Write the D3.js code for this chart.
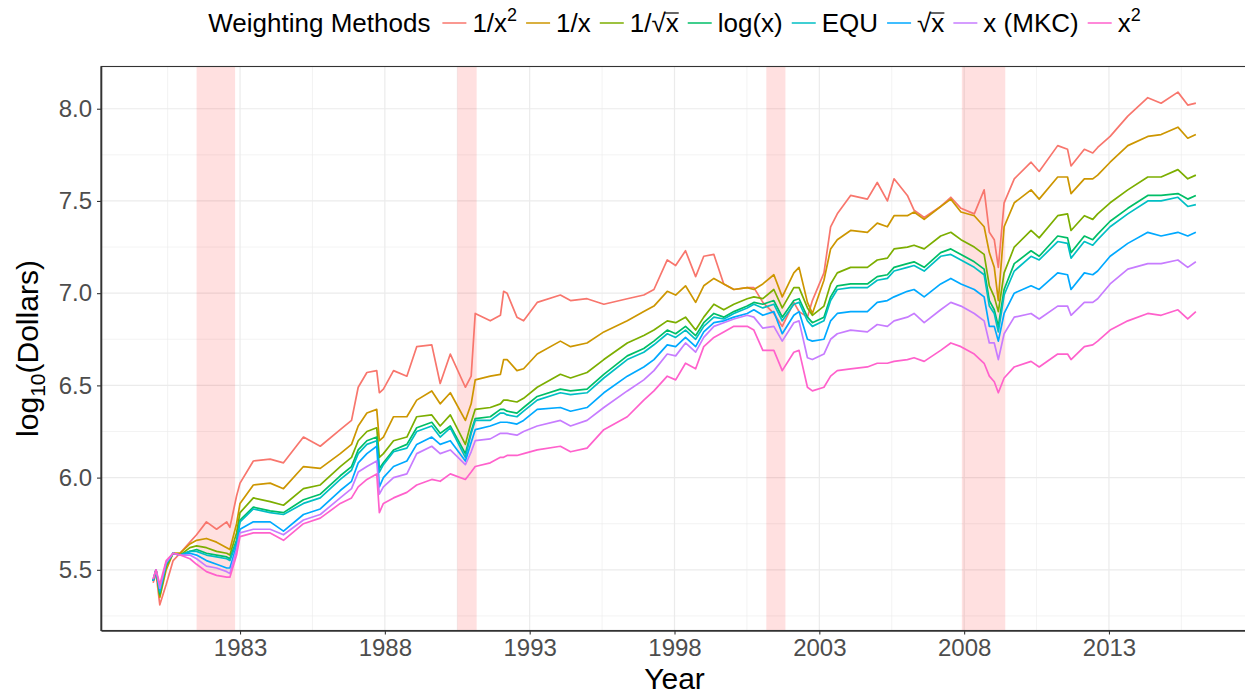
<!DOCTYPE html>
<html>
<head>
<meta charset="utf-8">
<script src="https://cdn.jsdelivr.net/npm/d3@7"></script>
<style>
  body { margin: 0; background: #fff; }
  svg { display: block; font-family: "Liberation Sans", Arial, Helvetica, sans-serif; }
</style>
</head>
<body>
<div id="chart"></div>
<script>
// dates as decimal years
var years = [
  1980.00, 1980.10, 1980.23, 1980.45, 1980.69, 1980.93, 1981.27, 1981.50, 1981.84, 1982.19,
  1982.54, 1982.65, 1982.88, 1983.00, 1983.46, 1984.04, 1984.50, 1985.19, 1985.77, 1986.46,
  1986.85, 1987.08, 1987.38, 1987.72, 1987.81, 1987.95, 1988.30, 1988.76, 1989.10, 1989.62,
  1989.91, 1990.26, 1990.78, 1990.98, 1991.12, 1991.64, 1991.99, 1992.10, 1992.22, 1992.56,
  1992.79, 1993.26, 1994.06, 1994.41, 1994.98, 1995.56, 1996.37, 1996.94, 1997.29, 1997.75,
  1998.04, 1998.38, 1998.73, 1999.01, 1999.36, 1999.70, 2000.05, 2000.51, 2000.74, 2001.05,
  2001.43, 2001.72, 2002.12, 2002.30, 2002.59, 2002.76, 2003.16, 2003.39, 2003.62, 2004.08,
  2004.66, 2005.00, 2005.35, 2005.58, 2006.04, 2006.27, 2006.62, 2007.19, 2007.54, 2007.89,
  2008.35, 2008.69, 2008.87, 2009.04, 2009.18, 2009.38, 2009.73, 2010.31, 2010.59, 2011.23,
  2011.57, 2011.69, 2012.15, 2012.44, 2012.61, 2013.04, 2013.65, 2014.34, 2014.80, 2015.38,
  2015.72, 2016.00
];

var inv2 = [
  5.43, 5.48, 5.31, 5.42, 5.55, 5.59, 5.65, 5.69, 5.76, 5.72,
  5.76, 5.73, 5.90, 5.97, 6.09, 6.10, 6.08, 6.22, 6.17, 6.26,
  6.31, 6.49, 6.57, 6.58, 6.46, 6.48, 6.58, 6.55, 6.71, 6.72,
  6.51, 6.67, 6.49, 6.55, 6.89, 6.85, 6.88, 7.01, 7.00, 6.87,
  6.85, 6.95, 6.99, 6.96, 6.97, 6.94, 6.97, 6.99, 7.02, 7.18,
  7.15, 7.23, 7.09, 7.20, 7.21, 7.05, 7.02, 7.03, 7.03, 6.95,
  6.89, 6.82, 6.95, 6.90, 6.87, 6.96, 7.11, 7.36, 7.43, 7.53,
  7.51, 7.60, 7.50, 7.62, 7.53, 7.45, 7.41, 7.47, 7.52, 7.46,
  7.43, 7.56, 7.33, 7.29, 7.14, 7.49, 7.62, 7.71, 7.66, 7.80,
  7.78, 7.69, 7.78, 7.76, 7.79, 7.85, 7.96, 8.06, 8.03, 8.09,
  8.02, 8.03
];

var inv = [
  5.44, 5.50, 5.35, 5.50, 5.59, 5.59, 5.64, 5.66, 5.67, 5.65,
  5.62, 5.61, 5.75, 5.86, 5.96, 5.97, 5.94, 6.06, 6.05, 6.13,
  6.18, 6.28, 6.35, 6.37, 6.20, 6.22, 6.33, 6.33, 6.42, 6.47,
  6.40, 6.46, 6.31, 6.40, 6.53, 6.55, 6.56, 6.64, 6.64, 6.58,
  6.59, 6.67, 6.74, 6.71, 6.73, 6.79, 6.85, 6.90, 6.93, 7.01,
  6.99, 7.04, 6.95, 7.04, 7.08, 7.05, 7.02, 7.03, 7.02, 7.05,
  7.10, 6.98, 7.11, 7.14, 6.95, 6.89, 7.07, 7.24, 7.29, 7.34,
  7.33, 7.38, 7.36, 7.42, 7.42, 7.44, 7.40, 7.47, 7.51, 7.44,
  7.42, 7.36, 7.22, 7.14, 6.96, 7.36, 7.49, 7.56, 7.51, 7.63,
  7.63, 7.54, 7.62, 7.62, 7.64, 7.71, 7.80, 7.85, 7.86, 7.90,
  7.84, 7.86
];

var invSqrt = [
  5.44, 5.50, 5.36, 5.52, 5.59, 5.58, 5.62, 5.63, 5.62, 5.60,
  5.59, 5.58, 5.70, 5.81, 5.89, 5.87, 5.85, 5.94, 5.96, 6.06,
  6.11, 6.20, 6.25, 6.27, 6.11, 6.13, 6.20, 6.22, 6.33, 6.34,
  6.28, 6.34, 6.18, 6.30, 6.37, 6.38, 6.40, 6.42, 6.42, 6.41,
  6.43, 6.49, 6.56, 6.54, 6.57, 6.64, 6.73, 6.77, 6.80, 6.85,
  6.84, 6.87, 6.80, 6.87, 6.94, 6.91, 6.94, 6.97, 6.98, 6.97,
  7.02, 6.92, 7.03, 7.03, 6.92, 6.88, 6.93, 7.05, 7.11, 7.14,
  7.14, 7.18, 7.19, 7.24, 7.25, 7.26, 7.24, 7.31, 7.33, 7.29,
  7.25, 7.21, 7.04, 6.98, 6.90, 7.11, 7.25, 7.34, 7.30, 7.42,
  7.43, 7.34, 7.42, 7.40, 7.43, 7.49, 7.56, 7.63, 7.63, 7.67,
  7.62, 7.64
];

var logx = [
  5.44, 5.50, 5.37, 5.53, 5.59, 5.58, 5.60, 5.61, 5.59, 5.58,
  5.57, 5.56, 5.66, 5.77, 5.84, 5.82, 5.81, 5.88, 5.91, 6.01,
  6.06, 6.15, 6.20, 6.22, 6.05, 6.08, 6.15, 6.18, 6.27, 6.30,
  6.24, 6.28, 6.13, 6.25, 6.32, 6.33, 6.37, 6.37, 6.36, 6.35,
  6.38, 6.44, 6.48, 6.47, 6.48, 6.56, 6.66, 6.70, 6.74, 6.80,
  6.78, 6.82, 6.77, 6.84, 6.89, 6.87, 6.90, 6.93, 6.95, 6.94,
  6.96, 6.87, 6.96, 6.97, 6.87, 6.84, 6.87, 6.98, 7.04, 7.05,
  7.05, 7.09, 7.10, 7.14, 7.16, 7.17, 7.14, 7.22, 7.24, 7.21,
  7.17, 7.13, 6.96, 6.91, 6.82, 7.02, 7.16, 7.23, 7.20, 7.31,
  7.30, 7.22, 7.31, 7.29, 7.32, 7.39, 7.46, 7.53, 7.53, 7.54,
  7.51, 7.53
];

var equ = [
  5.44, 5.50, 5.38, 5.53, 5.59, 5.58, 5.60, 5.60, 5.58, 5.57,
  5.56, 5.55, 5.65, 5.76, 5.83, 5.81, 5.80, 5.86, 5.89, 5.99,
  6.04, 6.13, 6.18, 6.20, 6.03, 6.07, 6.14, 6.16, 6.25, 6.28,
  6.22, 6.27, 6.11, 6.24, 6.31, 6.31, 6.35, 6.35, 6.34, 6.33,
  6.36, 6.42, 6.46, 6.45, 6.46, 6.54, 6.64, 6.68, 6.72, 6.78,
  6.76, 6.80, 6.75, 6.82, 6.87, 6.86, 6.89, 6.92, 6.94, 6.92,
  6.94, 6.85, 6.94, 6.95, 6.85, 6.82, 6.85, 6.96, 7.02, 7.03,
  7.03, 7.07, 7.08, 7.12, 7.14, 7.15, 7.12, 7.20, 7.21, 7.18,
  7.14, 7.10, 6.93, 6.89, 6.79, 6.99, 7.12, 7.20, 7.18, 7.28,
  7.27, 7.19, 7.28, 7.26, 7.29, 7.36, 7.43, 7.50, 7.50, 7.52,
  7.47, 7.48
];

var sqrtx = [
  5.44, 5.50, 5.39, 5.54, 5.59, 5.58, 5.59, 5.58, 5.55, 5.53,
  5.51, 5.51, 5.63, 5.72, 5.76, 5.76, 5.71, 5.80, 5.83, 5.93,
  5.98, 6.08, 6.13, 6.17, 5.95, 6.00, 6.06, 6.09, 6.18, 6.22,
  6.18, 6.20, 6.09, 6.19, 6.26, 6.28, 6.30, 6.30, 6.30, 6.29,
  6.31, 6.37, 6.38, 6.36, 6.38, 6.46, 6.55, 6.60, 6.64, 6.72,
  6.71, 6.76, 6.71, 6.79, 6.84, 6.85, 6.87, 6.89, 6.91, 6.88,
  6.90, 6.78, 6.88, 6.90, 6.75, 6.74, 6.75, 6.85, 6.89, 6.90,
  6.90, 6.95, 6.96, 6.98, 7.01, 7.02, 6.98, 7.05, 7.08, 7.05,
  7.02, 6.98, 6.82, 6.82, 6.74, 6.89, 7.00, 7.04, 7.02, 7.11,
  7.10, 7.02, 7.11, 7.10, 7.12, 7.20, 7.27, 7.33, 7.31, 7.33,
  7.31, 7.33
];

var mkc = [
  5.45, 5.50, 5.40, 5.54, 5.59, 5.58, 5.58, 5.56, 5.52, 5.51,
  5.49, 5.48, 5.61, 5.70, 5.72, 5.72, 5.69, 5.77, 5.80, 5.89,
  5.94, 6.03, 6.06, 6.09, 5.91, 5.95, 6.00, 6.02, 6.13, 6.17,
  6.13, 6.15, 6.07, 6.14, 6.20, 6.21, 6.24, 6.24, 6.24, 6.23,
  6.25, 6.28, 6.31, 6.28, 6.31, 6.38, 6.47, 6.53, 6.58, 6.67,
  6.66, 6.73, 6.68, 6.76, 6.82, 6.84, 6.86, 6.88, 6.87, 6.81,
  6.82, 6.74, 6.84, 6.85, 6.65, 6.64, 6.67, 6.75, 6.78, 6.80,
  6.79, 6.83, 6.82, 6.85, 6.87, 6.89, 6.84, 6.91, 6.95, 6.93,
  6.89, 6.85, 6.73, 6.73, 6.64, 6.78, 6.87, 6.89, 6.86, 6.93,
  6.93, 6.88, 6.95, 6.95, 6.97, 7.05, 7.13, 7.16, 7.16, 7.18,
  7.14, 7.17
];

var sq = [
  5.45, 5.50, 5.42, 5.55, 5.59, 5.58, 5.56, 5.53, 5.49, 5.47,
  5.46, 5.46, 5.58, 5.68, 5.70, 5.70, 5.66, 5.75, 5.78, 5.86,
  5.89, 5.95, 5.99, 6.02, 5.81, 5.86, 5.89, 5.92, 5.96, 5.99,
  5.98, 6.02, 5.99, 6.03, 6.06, 6.08, 6.11, 6.11, 6.12, 6.12,
  6.13, 6.15, 6.17, 6.14, 6.16, 6.26, 6.33, 6.42, 6.47, 6.55,
  6.53, 6.62, 6.59, 6.71, 6.76, 6.79, 6.82, 6.82, 6.80, 6.69,
  6.69, 6.58, 6.68, 6.69, 6.49, 6.47, 6.49, 6.55, 6.58, 6.59,
  6.60, 6.62, 6.62, 6.63, 6.64, 6.65, 6.63, 6.69, 6.73, 6.71,
  6.67, 6.62, 6.55, 6.52, 6.46, 6.54, 6.60, 6.63, 6.60, 6.67,
  6.67, 6.64, 6.71, 6.72, 6.74, 6.80, 6.85, 6.89, 6.88, 6.91,
  6.86, 6.90
];

// NBER recessions (start, end)
var recessions = [[1981.50, 1982.83], [1990.50, 1991.17], [2001.17, 2001.83], [2007.92, 2009.42]];

var xTicks = [1983, 1988, 1993, 1998, 2003, 2008, 2013];
var yTicks = [5.5, 6.0, 6.5, 7.0, 7.5, 8.0];

var series = [
  { values: inv2,    color: "#F8766D", label: [{ t: "1/x" }, { t: "2", sup: true }] },
  { values: inv,     color: "#CD9600", label: [{ t: "1/x" }] },
  { values: invSqrt, color: "#7CAE00", label: [{ t: "1/\u221A" }, { t: "x", over: true }] },
  { values: logx,    color: "#00BE67", label: [{ t: "log(x)" }] },
  { values: equ,     color: "#00BFC4", label: [{ t: "EQU" }] },
  { values: sqrtx,   color: "#00A9FF", label: [{ t: "\u221A" }, { t: "x", over: true }] },
  { values: mkc,     color: "#C77CFF", label: [{ t: "x (MKC)" }] },
  { values: sq,      color: "#FF61CC", label: [{ t: "x" }, { t: "2", sup: true }] }
];

var width = 1245, height = 694;
var panel = { left: 101, top: 66.5, right: 1248, bottom: 630.5 };

var svg = d3.select("#chart").append("svg")
  .attr("width", width)
  .attr("height", height);

// scales with ggplot-style 5% expansion
var xExt = d3.extent(years);
var xPad = (xExt[1] - xExt[0]) * 0.05;
var x = d3.scaleLinear()
  .domain([xExt[0] - xPad, xExt[1] + xPad])
  .range([panel.left, panel.right]);

var allVals = d3.merge(series.map(function (s) { return s.values; }));
var yExt = d3.extent(allVals);
var yPad = (yExt[1] - yExt[0]) * 0.05;
var y = d3.scaleLinear()
  .domain([yExt[0] - yPad, yExt[1] + yPad])
  .range([panel.bottom, panel.top]);

svg.append("defs").append("clipPath").attr("id", "clip")
  .append("rect")
  .attr("x", panel.left).attr("y", panel.top)
  .attr("width", panel.right - panel.left)
  .attr("height", panel.bottom - panel.top);

var grid = svg.append("g").attr("clip-path", "url(#clip)");

// minor grid
var xMinor = xTicks.map(function (d) { return d - 2.5; }).concat([xTicks[xTicks.length - 1] + 2.5]);
var yMinor = yTicks.map(function (d) { return d - 0.25; }).concat([yTicks[yTicks.length - 1] + 0.25]);

grid.selectAll(".xminor").data(xMinor).enter().append("line")
  .attr("x1", x).attr("x2", x)
  .attr("y1", panel.top).attr("y2", panel.bottom)
  .attr("stroke", "#EBEBEB").attr("stroke-width", 0.6);
grid.selectAll(".yminor").data(yMinor).enter().append("line")
  .attr("y1", y).attr("y2", y)
  .attr("x1", panel.left).attr("x2", panel.right)
  .attr("stroke", "#EBEBEB").attr("stroke-width", 0.6);

// major grid
grid.selectAll(".xmajor").data(xTicks).enter().append("line")
  .attr("x1", x).attr("x2", x)
  .attr("y1", panel.top).attr("y2", panel.bottom)
  .attr("stroke", "#EBEBEB").attr("stroke-width", 1.2);
grid.selectAll(".ymajor").data(yTicks).enter().append("line")
  .attr("y1", y).attr("y2", y)
  .attr("x1", panel.left).attr("x2", panel.right)
  .attr("stroke", "#EBEBEB").attr("stroke-width", 1.2);

// recession bands
grid.selectAll(".rec").data(recessions).enter().append("rect")
  .attr("x", function (d) { return x(d[0]); })
  .attr("width", function (d) { return x(d[1]) - x(d[0]); })
  .attr("y", panel.top)
  .attr("height", panel.bottom - panel.top)
  .attr("fill", "red")
  .attr("fill-opacity", 0.12);

// lines
var line = d3.line()
  .x(function (d, i) { return x(years[i]); })
  .y(function (d) { return y(d); });

grid.selectAll(".series").data(series).enter().append("path")
  .attr("d", function (s) { return line(s.values); })
  .attr("fill", "none")
  .attr("stroke", function (s) { return s.color; })
  .attr("stroke-width", 1.7)
  .attr("stroke-linejoin", "round");

// panel border
svg.append("rect")
  .attr("x", panel.left).attr("y", panel.top)
  .attr("width", panel.right - panel.left)
  .attr("height", panel.bottom - panel.top)
  .attr("fill", "none")
  .attr("stroke", "#333333")
  .attr("stroke-width", 1.1);

// axes
var yAxis = svg.append("g")
  .attr("transform", "translate(" + panel.left + ",0)")
  .call(d3.axisLeft(y).tickValues(yTicks).tickFormat(d3.format(".1f"))
    .tickSizeInner(4).tickSizeOuter(0).tickPadding(5));
var xAxis = svg.append("g")
  .attr("transform", "translate(0," + panel.bottom + ")")
  .call(d3.axisBottom(x).tickValues(xTicks).tickFormat(d3.format("d"))
    .tickSizeInner(4).tickSizeOuter(0).tickPadding(4));

[yAxis, xAxis].forEach(function (a) {
  a.select(".domain").attr("stroke", "#333333").attr("stroke-width", 1.6);
  a.selectAll(".tick line").attr("stroke", "#333333").attr("stroke-width", 1.1);
  a.selectAll(".tick text")
    .attr("fill", "#4D4D4D")
    .style("font-size", "24px")
    .style("font-family", "'Liberation Sans', Arial, sans-serif");
});

// axis titles
svg.append("text")
  .attr("x", (panel.left + panel.right) / 2)
  .attr("y", 689)
  .attr("text-anchor", "middle")
  .style("font-size", "30px")
  .text("Year");

var yt = svg.append("text")
  .attr("transform", "translate(38," + ((panel.top + panel.bottom) / 2) + ") rotate(-90)")
  .attr("text-anchor", "middle")
  .style("font-size", "30px");
yt.append("tspan").text("log");
yt.append("tspan").attr("dy", 7).style("font-size", "21px").text("10");
yt.append("tspan").attr("dy", -7).text("(Dollars)");

// legend
var legend = svg.append("g");
var ly = 32, fs = 26, keyW = 24;
var lt = legend.append("text").attr("x", 0).attr("y", ly)
  .style("font-size", fs + "px").text("Weighting Methods");
var lx = lt.node().getComputedTextLength() + 12;

series.forEach(function (s) {
  legend.append("line")
    .attr("x1", lx).attr("x2", lx + keyW)
    .attr("y1", ly - 9).attr("y2", ly - 9)
    .attr("stroke", s.color).attr("stroke-width", 1.5);
  lx += keyW + 6;
  var t = legend.append("text").attr("x", lx).attr("y", ly).style("font-size", fs + "px");
  var charIdx = 0, overIdx = -1;
  s.label.forEach(function (p) {
    var ts = t.append("tspan").text(p.t);
    if (p.sup) ts.attr("dy", -11).style("font-size", "18px");
    if (p.over) overIdx = charIdx;
    charIdx += p.t.length;
  });
  if (overIdx >= 0) {
    var r = t.node().getExtentOfChar(overIdx);
    legend.append("line")
      .attr("x1", r.x - 1).attr("x2", r.x + r.width)
      .attr("y1", r.y + 5).attr("y2", r.y + 5)
      .attr("stroke", "#000").attr("stroke-width", 1.2);
  }
  lx += t.node().getComputedTextLength() + 9;
});

legend.attr("transform", "translate(" + ((panel.left + panel.right) / 2 - (lx - 9) / 2) + ",0)");
</script>
</body>
</html>
